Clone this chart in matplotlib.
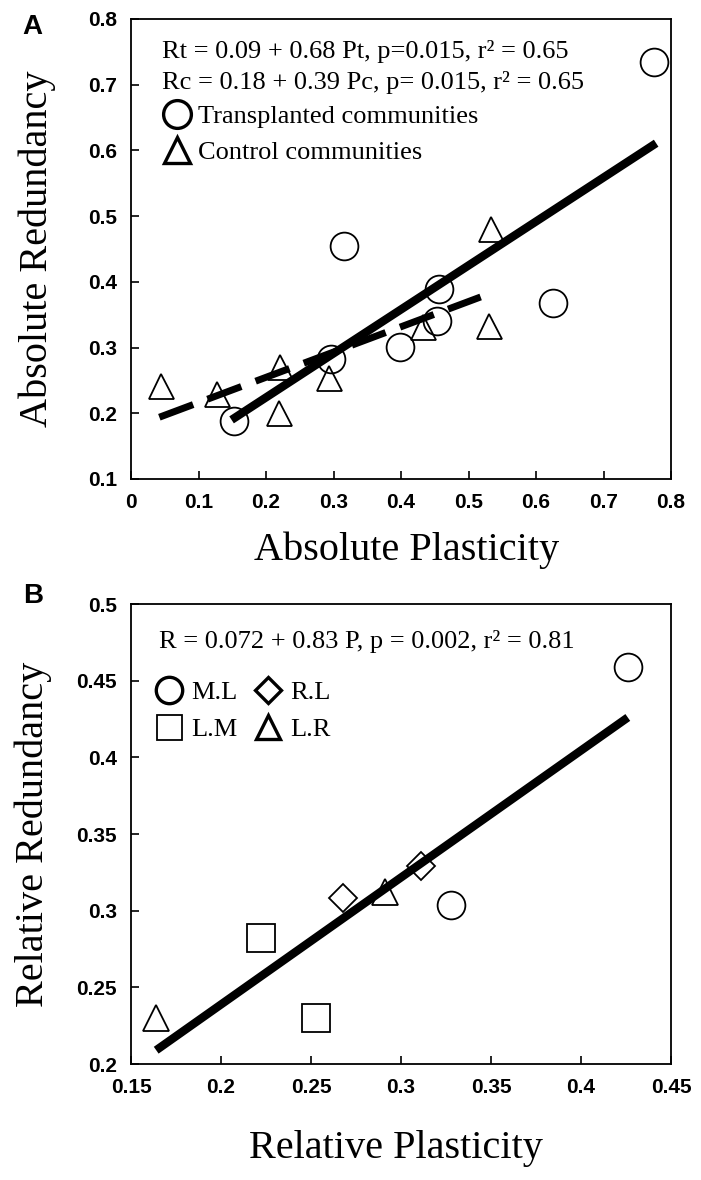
import matplotlib
matplotlib.use('Agg')
import matplotlib.pyplot as plt
from matplotlib.lines import Line2D

plt.rcParams['font.family'] = 'Liberation Serif'

# panel A, absolute values
trans_x = [0.152, 0.297, 0.316, 0.398, 0.454, 0.456, 0.625, 0.775]
trans_y = [0.189, 0.282, 0.455, 0.301, 0.341, 0.389, 0.368, 0.735]
ctrl_x = [0.045, 0.127, 0.219, 0.221, 0.294, 0.432, 0.530, 0.533]
ctrl_y = [0.242, 0.229, 0.200, 0.271, 0.254, 0.331, 0.333, 0.481]
fit_t_x = [0.149, 0.778]
fit_t_y = [0.190, 0.611]
fit_c_x = [0.042, 0.518]
fit_c_y = [0.194, 0.377]

# panel B, relative values
ml_x = [0.426, 0.328]
ml_y = [0.459, 0.304]
rl_x = [0.311, 0.268]
rl_y = [0.329, 0.308]
lm_x = [0.222, 0.253]
lm_y = [0.282, 0.230]
lr_x = [0.164, 0.291]
lr_y = [0.230, 0.312]
fit_b_x = [0.164, 0.426]
fit_b_y = [0.209, 0.426]

xticks_a = [0, 0.1, 0.2, 0.3, 0.4, 0.5, 0.6, 0.7, 0.8]
xlabels_a = ['0', '0.1', '0.2', '0.3', '0.4', '0.5', '0.6', '0.7', '0.8']
yticks_a = [0.1, 0.2, 0.3, 0.4, 0.5, 0.6, 0.7, 0.8]
ylabels_a = ['0.1', '0.2', '0.3', '0.4', '0.5', '0.6', '0.7', '0.8']
xticks_b = [0.15, 0.2, 0.25, 0.3, 0.35, 0.4, 0.45]
xlabels_b = ['0.15', '0.2', '0.25', '0.3', '0.35', '0.4', '0.45']
yticks_b = [0.2, 0.25, 0.3, 0.35, 0.4, 0.45, 0.5]
ylabels_b = ['0.2', '0.25', '0.3', '0.35', '0.4', '0.45', '0.5']

W, H = 701, 1180
fig = plt.figure(figsize=(W/100, H/100), dpi=100)
axA = fig.add_axes([131/W, 1-479/H, 540/W, 460/H])
axB = fig.add_axes([131/W, 1-1064/H, 540/W, 460/H])


def style_axis(ax, xt, xl, yt, yl):
    ax.set_xticks(xt)
    ax.set_xticklabels(xl)
    ax.set_yticks(yt)
    ax.set_yticklabels(yl)
    ax.set_xlim(xt[0], xt[-1])
    ax.set_ylim(yt[0], yt[-1])
    ax.tick_params(direction='in', length=6, width=1.2, pad=10)
    for lbl in ax.get_xticklabels() + ax.get_yticklabels():
        lbl.set_fontfamily('Liberation Sans')
        lbl.set_fontweight('bold')
        lbl.set_fontsize(15)
    for s in ax.spines.values():
        s.set_linewidth(1.3)


mk = dict(ls='none', mfc='none', mec='black', mew=1.3)

# ---- A
axA.plot(fit_t_x, fit_t_y, color='black', lw=6, solid_capstyle='butt')
axA.plot(fit_c_x, fit_c_y, color='black', lw=5, ls=(0, (5.2, 2.2)), dash_capstyle='butt')
axA.plot(trans_x, trans_y, marker='o', ms=20, **mk)
axA.plot(ctrl_x, ctrl_y, marker='^', ms=18, **mk)
style_axis(axA, xticks_a, xlabels_a, yticks_a, ylabels_a)

axA.text(0.057, 0.9146, 'Rt = 0.09 + 0.68 Pt, p=0.015, r² = 0.65',
         transform=axA.transAxes, fontsize=19, va='baseline')
axA.text(0.057, 0.847, 'Rc = 0.18 + 0.39 Pc, p= 0.015, r² = 0.65',
         transform=axA.transAxes, fontsize=19, va='baseline')

hA = [Line2D([], [], marker='o', ms=20, ls='none', mfc='none', mec='black', mew=2.4),
      Line2D([], [], marker='^', ms=19, ls='none', mfc='none', mec='black', mew=2.4)]
axA.legend(hA, ['Transplanted communities', 'Control communities'],
           loc='upper left', bbox_to_anchor=(0.059, 0.813), frameon=False,
           fontsize=19, handlelength=1.05, handletextpad=0.27,
           borderpad=0, borderaxespad=0, labelspacing=0.45)

axA.set_xlabel('Absolute Plasticity', fontsize=29, va='baseline')
axA.xaxis.set_label_coords(0.51, -0.176)
axA.set_ylabel('Absolute Redundancy', fontsize=29, va='baseline')
axA.yaxis.set_label_coords(-0.156, 0.5)

# ---- B
axB.plot(fit_b_x, fit_b_y, color='black', lw=6, solid_capstyle='butt')
axB.plot(ml_x, ml_y, marker='o', ms=20, **mk)
axB.plot(rl_x, rl_y, marker='D', ms=14, **mk)
axB.plot(lm_x, lm_y, marker='s', ms=20, **mk)
axB.plot(lr_x, lr_y, marker='^', ms=19, **mk)
style_axis(axB, xticks_b, xlabels_b, yticks_b, ylabels_b)

axB.text(0.052, 0.9037, 'R = 0.072 + 0.83 P, p = 0.002, r² = 0.81',
         transform=axB.transAxes, fontsize=19, va='baseline')

hB = [Line2D([], [], marker='o', ms=19, ls='none', mfc='none', mec='black', mew=2.4),
      Line2D([], [], marker='s', ms=18, ls='none', mfc='none', mec='black', mew=1.3),
      Line2D([], [], marker='D', ms=13, ls='none', mfc='none', mec='black', mew=2.4),
      Line2D([], [], marker='^', ms=17, ls='none', mfc='none', mec='black', mew=2.4)]
axB.legend(hB, ['M.L', 'L.M', 'R.L', 'L.R'], ncol=2,
           loc='upper left', bbox_to_anchor=(0.046, 0.833), frameon=False,
           fontsize=19, handlelength=1.0, handletextpad=0.33, columnspacing=0.67,
           borderpad=0, borderaxespad=0, labelspacing=0.52)

axB.set_xlabel('Relative Plasticity', fontsize=29, va='baseline')
axB.xaxis.set_label_coords(0.49, -0.204)
axB.set_ylabel('Relative Redundancy', fontsize=29, va='baseline')
axB.yaxis.set_label_coords(-0.163, 0.5)

fig.text(32/W, 1-27/H, 'A', fontsize=20, fontweight='bold', family='Liberation Sans',
         ha='center', va='center')
fig.text(33/W, 1-596/H, 'B', fontsize=20, fontweight='bold', family='Liberation Sans',
         ha='center', va='center')

fig.savefig('out.png', dpi=100)
